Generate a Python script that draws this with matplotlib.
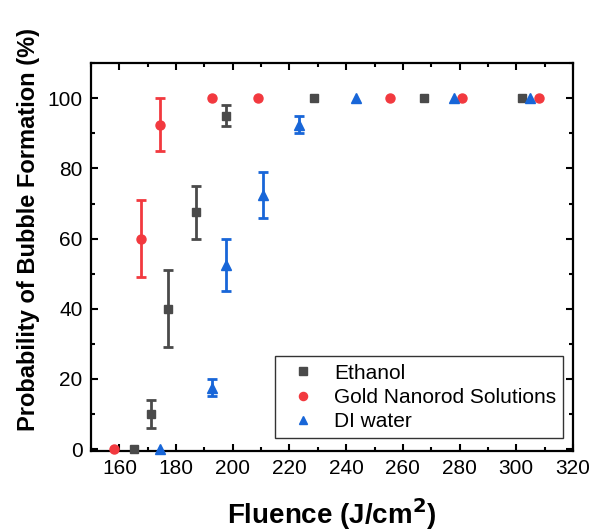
import matplotlib
matplotlib.use("Agg")
import matplotlib.pyplot as plt
from matplotlib.ticker import MultipleLocator

plt.rcParams['font.family'] = ['Liberation Sans', 'DejaVu Sans']

eth_x = [165, 171, 177, 187, 197.5, 228.5, 267.5, 302]
eth_y = [0, 10, 40, 67.5, 95, 100, 100, 100]
eth_e = [0, 4, 11, 7.5, 3, 0, 0, 0]

gold_x = [158, 167.5, 174.5, 192.5, 209, 255.5, 281, 308]
gold_y = [0, 60, 92.5, 100, 100, 100, 100, 100]
gold_e = [0, 11, 7.5, 0, 0, 0, 0, 0]

di_x = [174.5, 192.5, 197.5, 210.5, 223.5, 243.5, 278, 305]
di_y = [0, 17.5, 52.5, 72.5, 92.5, 100, 100, 100]
di_e = [0, 2.5, 7.5, 6.5, 2.5, 0, 0, 0]

c_eth = "#4a4a4a"
c_gold = "#f2393f"
c_di = "#1866d8"

fig = plt.figure(figsize=(5.95, 5.31), dpi=100)
ax = fig.add_axes([0.153, 0.151, 0.81, 0.73])

def plot_series(x, y, e, color, marker, ms, label):
    xe = [a for a, b in zip(x, e) if b > 0]
    ye = [a for a, b in zip(y, e) if b > 0]
    ee = [b for b in e if b > 0]
    ax.errorbar(xe, ye, yerr=ee, fmt='none', ecolor=color, elinewidth=2.0,
                capsize=3.5, capthick=2.0, zorder=2)
    ax.plot(x, y, linestyle='none', marker=marker, color=color, markersize=ms,
            label=label, zorder=3, clip_on=False)

plot_series(eth_x, eth_y, eth_e, c_eth, 's', 5.8, "Ethanol")
plot_series(gold_x, gold_y, gold_e, c_gold, 'o', 6.5, "Gold Nanorod Solutions")
plot_series(di_x, di_y, di_e, c_di, '^', 7, "DI water")

ax.set_xlim(150, 320)
ax.set_ylim(-0.5, 110)
ax.xaxis.set_major_locator(MultipleLocator(20))
ax.xaxis.set_minor_locator(MultipleLocator(10))
ax.yaxis.set_major_locator(MultipleLocator(20))
ax.yaxis.set_minor_locator(MultipleLocator(10))
ax.set_xticks(range(160, 321, 20))
ax.tick_params(which='both', direction='in', top=True, right=True, width=1.5)
ax.tick_params(which='major', length=5, labelsize=15)
ax.tick_params(which='minor', length=3)
ax.tick_params(axis='y', which='major', pad=6)
ax.tick_params(axis='x', which='major', pad=6)
for s in ax.spines.values():
    s.set_linewidth(1.6)

ax.set_xlabel("Fluence (J/cm$^\\mathbf{2}$)", fontsize=20, fontweight='bold')
ax.set_ylabel("Probability of Bubble Formation (%)", fontsize=17, fontweight='bold')
ax.xaxis.set_label_coords(0.5, -0.118)
ax.yaxis.set_label_coords(-0.106, 0.572)

leg = ax.legend(loc='lower right', bbox_to_anchor=(0.98, 0.032), fontsize=15,
                frameon=True, fancybox=False, edgecolor='black', handletextpad=0.5,
                borderpad=0.35, labelspacing=0.25, markerscale=0.9, handlelength=2.0,
                borderaxespad=0)
leg.get_frame().set_linewidth(1.0)

fig.savefig("out.png", dpi=100)
